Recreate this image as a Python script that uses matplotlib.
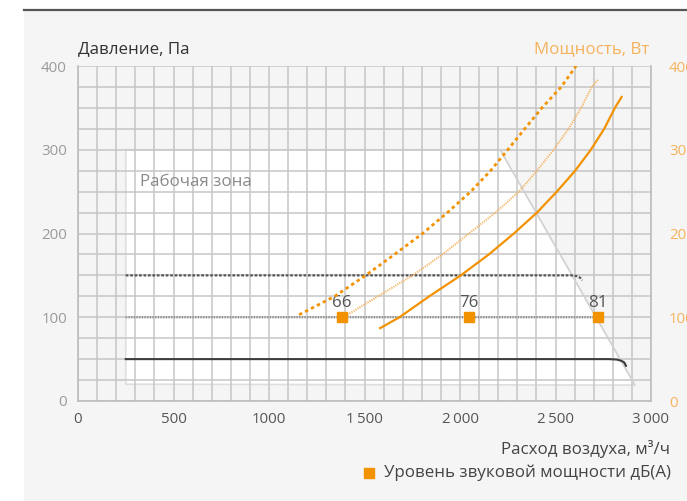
import matplotlib
matplotlib.use("Agg")
import matplotlib.pyplot as plt
from matplotlib.patches import Polygon, Rectangle
from matplotlib.lines import Line2D
from matplotlib.ticker import MultipleLocator, FixedLocator

plt.rcParams['font.family'] = ['Open Sans', 'DejaVu Sans']

# ---- data ----
x_ticks = [0, 500, 1000, 1500, 2000, 2500, 3000]
x_tick_labels = ["0", "500", "1000", "1\u2009500", "2\u2009000", "2\u2009500", "3\u2009000"]
y_ticks = [0, 100, 200, 300, 400]

# working zone outline (flow, pressure)
zone_x = [250, 250, 2210, 2916]
zone_y = [20, 300, 300, 19]

# pressure control lines
p50_x = [250, 2780, 2820, 2845, 2860, 2869]
p50_y = [50, 50, 49.5, 48, 46, 42]
p100_x = [250, 2715, 2740, 2752]
p100_y = [100, 100, 97, 94]
p150_x = [250, 2585, 2615, 2630, 2640]
p150_y = [150, 150, 149, 147, 144]

# power curves (right axis, W)
pw1_x = [1158, 1344, 1506, 1657, 1804, 1934, 2056, 2160, 2250, 2339, 2429, 2530, 2608]
pw1_y = [103, 125, 150, 175, 200, 225, 250, 275, 300, 325, 350, 375, 400]
pw2_x = [1390, 1570, 1752, 1908, 2047, 2186, 2308, 2403, 2490, 2568, 2634, 2690, 2724]
pw2_y = [100, 125, 150, 175, 200, 225, 250, 275, 300, 325, 350, 375, 384]
pw3_x = [1582, 1683, 1839, 2004, 2151, 2282, 2403, 2507, 2603, 2685, 2755, 2811, 2846]
pw3_y = [87, 100, 125, 150, 175, 200, 225, 250, 275, 300, 325, 350, 363]

# sound power level markers
snd_x = [1382, 2047, 2721]
snd_y = [100, 100, 100]
snd_lbl = ["66", "76", "81"]

ORANGE = "#f39200"
ORANGE_L = "#f6b25c"
GRID = "#c6c6c6"
FS = 12.2

fig = plt.figure(figsize=(6.87, 5.01), dpi=100)
fig.patch.set_facecolor("white")
W, H = 687, 501
bg = Rectangle((24 / W, 0), 1, (H - 10) / H, transform=fig.transFigure,
               facecolor="#f5f5f5", edgecolor="none", zorder=-10)
fig.patches.append(bg)
fig.lines.append(Line2D([24 / W, 1], [(H - 10) / H] * 2, transform=fig.transFigure,
                        color="#555555", lw=1.6, zorder=-5))

ax = fig.add_axes([78 / W, 1 - 401 / H, (651 - 78) / W, (401 - 66) / H])
ax.set_facecolor("none")
ax.set_xlim(0, 3000)
ax.set_ylim(0, 400)
ax.xaxis.set_major_locator(FixedLocator(x_ticks))
ax.yaxis.set_major_locator(FixedLocator(y_ticks))
ax.xaxis.set_minor_locator(MultipleLocator(100))
ax.yaxis.set_minor_locator(MultipleLocator(25))
ax.set_xticklabels(x_tick_labels)
ax.set_axisbelow(True)
ax.grid(which="both", color=GRID, lw=1.1, zorder=0.5)
ax.tick_params(which="both", length=0)
ax.tick_params(axis="x", colors="#555555", labelsize=10.8, pad=8)
ax.tick_params(axis="y", colors="#9a9a9a", labelsize=10.8, pad=8)
ax.spines["top"].set_visible(False)
for s in ["left", "bottom", "right"]:
    ax.spines[s].set_color("#bdbdbd")
    ax.spines[s].set_linewidth(1.2)

zone = Polygon(list(zip(zone_x, zone_y)), closed=True, facecolor="white",
               edgecolor="#dedede", lw=1.2, zorder=0.2)
ax.add_patch(zone)
ax.plot(zone_x[2:], zone_y[2:], color="#d2d2d2", lw=1.0, zorder=1)
ax.text(325, 262, "Рабочая зона", color="#8a8a8a", fontsize=FS, va="center", ha="left")

# pressure lines
ax.plot(p50_x, p50_y, color="#3c3c3c", lw=1.5, zorder=3)
ax.plot(p100_x, p100_y, color="#8c8c8c", lw=1.6, ls=(0, (0.6, 0.6)), zorder=3)
ax.plot(p150_x, p150_y, color="#555555", lw=1.6, ls=(0, (1.2, 0.8)), zorder=3)

ax2 = ax.twinx()
ax2.set_ylim(0, 400)
ax2.yaxis.set_major_locator(FixedLocator(y_ticks))
ax2.tick_params(axis="y", length=0, colors=ORANGE_L, labelsize=10.8, pad=13)
for s in ax2.spines.values():
    s.set_visible(False)

ax2.plot(pw1_x, pw1_y, color=ORANGE, lw=2.0, ls=(0, (1.2, 1.2)), zorder=4)
ax2.plot(pw2_x, pw2_y, color=ORANGE_L, lw=1.4, ls=(0, (0.6, 0.6)), zorder=4)
ax2.plot(pw3_x, pw3_y, color=ORANGE, lw=1.6, zorder=4)

ax2.plot(snd_x, snd_y, ls="none", marker="s", ms=7, color=ORANGE, zorder=5)
for xx, yy, t in zip(snd_x, snd_y, snd_lbl):
    ax2.text(xx, yy + 8, t, ha="center", va="bottom", color="#555555", fontsize=FS)

fig.text(78 / W, 1 - 49 / H, "Давление, Па", color="#333333", fontsize=FS, ha="left", va="center")
fig.text(649 / W, 1 - 49 / H, "Мощность, Вт", color=ORANGE_L, fontsize=FS, ha="right", va="center")
fig.text(670 / W, 1 - 449 / H, "Расход воздуха, м³/ч", color="#444444", fontsize=FS, ha="right", va="center")
fig.text(671 / W, 1 - 473 / H, "Уровень звуковой мощности дБ(А)", color="#444444", fontsize=FS,
         ha="right", va="center")
fig.lines.append(Line2D([369 / W], [1 - 473 / H], transform=fig.transFigure, marker="s",
                        ms=6.5, color=ORANGE, ls="none"))

fig.savefig("out.png", dpi=100)
